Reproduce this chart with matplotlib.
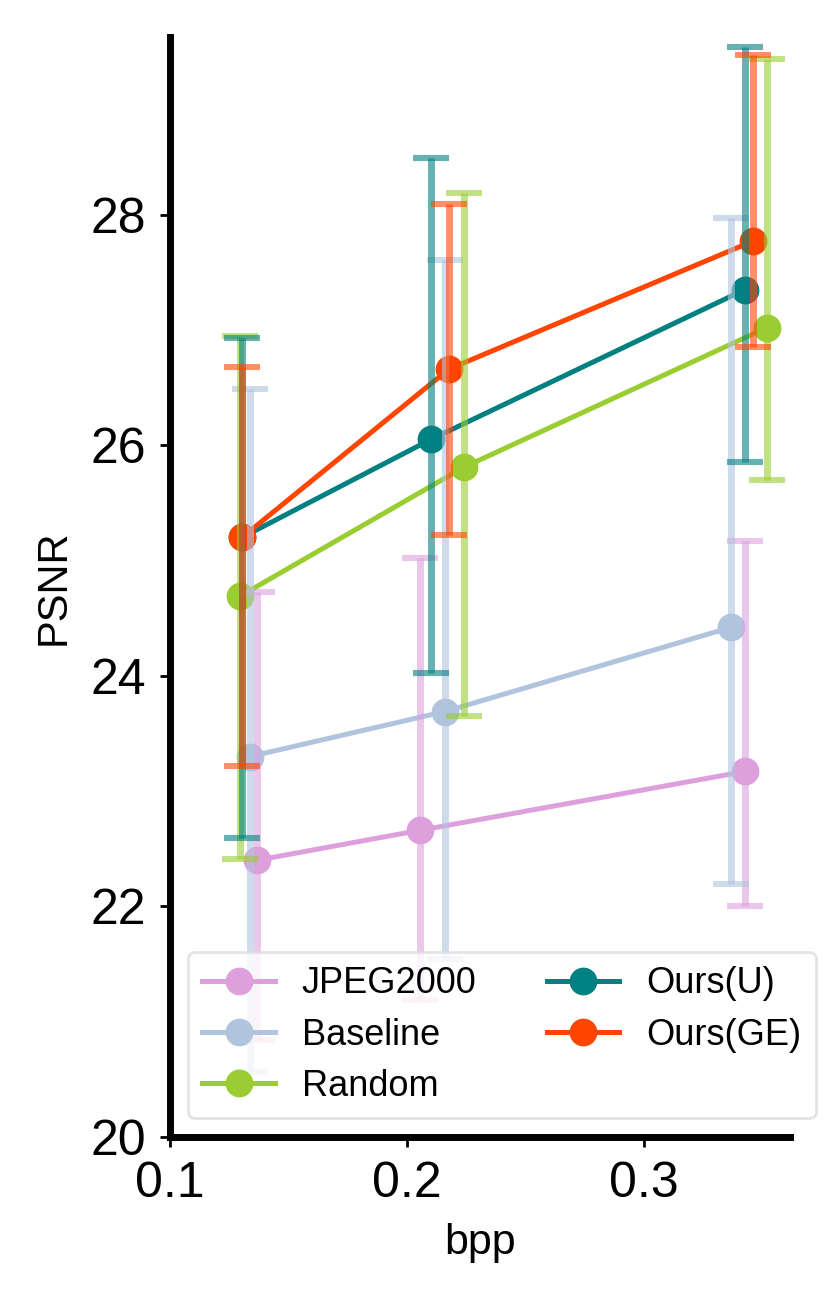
import matplotlib
matplotlib.use("Agg")
import matplotlib.pyplot as plt
import numpy as np

plt.rcParams['font.family'] = ['Liberation Sans', 'DejaVu Sans']

labels = ["JPEG2000", "Baseline", "Random", "Ours(U)", "Ours(GE)"]
colors = ["#DDA0DD", "#B0C4DE", "#9ACD32", "#008080", "#FF4500"]

bpp = {
    "JPEG2000": [0.1367, 0.2055, 0.3426],
    "Baseline": [0.1338, 0.2160, 0.3367],
    "Random":   [0.1295, 0.2241, 0.3519],
    "Ours(U)":  [0.1304, 0.2101, 0.3426],
    "Ours(GE)": [0.1304, 0.2177, 0.3460],
}
psnr = {
    "JPEG2000": [22.40, 22.66, 23.17],
    "Baseline": [23.30, 23.69, 24.42],
    "Random":   [24.69, 25.81, 27.02],
    "Ours(U)":  [25.20, 26.05, 27.35],
    "Ours(GE)": [25.20, 26.66, 27.77],
}
psnr_low = {
    "JPEG2000": [20.84, 21.19, 22.00],
    "Baseline": [20.56, 21.54, 22.19],
    "Random":   [22.41, 23.65, 25.70],
    "Ours(U)":  [22.59, 24.02, 25.85],
    "Ours(GE)": [23.22, 25.22, 26.85],
}
psnr_high = {
    "JPEG2000": [24.73, 25.02, 25.17],
    "Baseline": [26.49, 27.61, 27.97],
    "Random":   [26.95, 28.19, 29.35],
    "Ours(U)":  [26.93, 28.49, 29.45],
    "Ours(GE)": [26.68, 28.09, 29.38],
}

fig = plt.figure(figsize=(4.16, 6.5), dpi=200)
ax = fig.add_axes([0.2043, 0.1254, 0.7452, 0.8461])

handles = []
for lab, c in zip(labels, colors):
    x = np.array(bpp[lab]); y = np.array(psnr[lab])
    h, = ax.plot(x, y, '-o', color=c, lw=1.8, ms=9, zorder=3, label=lab)
    handles.append(h)

for lab, c in zip(labels, colors):
    x = np.array(bpp[lab]); y = np.array(psnr[lab])
    lo = y - np.array(psnr_low[lab]); hi = np.array(psnr_high[lab]) - y
    ax.errorbar(x, y, yerr=[lo, hi], fmt='none', ecolor=c, elinewidth=2.5,
                capsize=6.5, capthick=2.2, alpha=0.6, zorder=4)

ax.set_xlim(0.1, 0.3616)
ax.set_ylim(20, 29.54)
ax.set_xticks([0.1, 0.2, 0.3])
ax.set_yticks([20, 22, 24, 26, 28])
ax.set_xlabel("bpp", fontsize=15.5, labelpad=6)
ax.set_ylabel("PSNR", fontsize=15, labelpad=6)
ax.tick_params(labelsize=18, length=3.5, width=1, direction='out', pad=5)
for s in ['top', 'right']:
    ax.spines[s].set_visible(False)
for s in ['left', 'bottom']:
    ax.spines[s].set_linewidth(2.5)

leg = ax.legend(handles=handles, ncol=2, fontsize=13, loc='lower left',
                bbox_to_anchor=(0.029, 0.017), borderaxespad=0,
                handlelength=2.0, handletextpad=0.75, columnspacing=1.95,
                labelspacing=0.45, frameon=True, fancybox=True, framealpha=0.8)
leg.get_frame().set_edgecolor('#dddddd')
leg.set_zorder(5)

fig.savefig("out.png", dpi=200)
